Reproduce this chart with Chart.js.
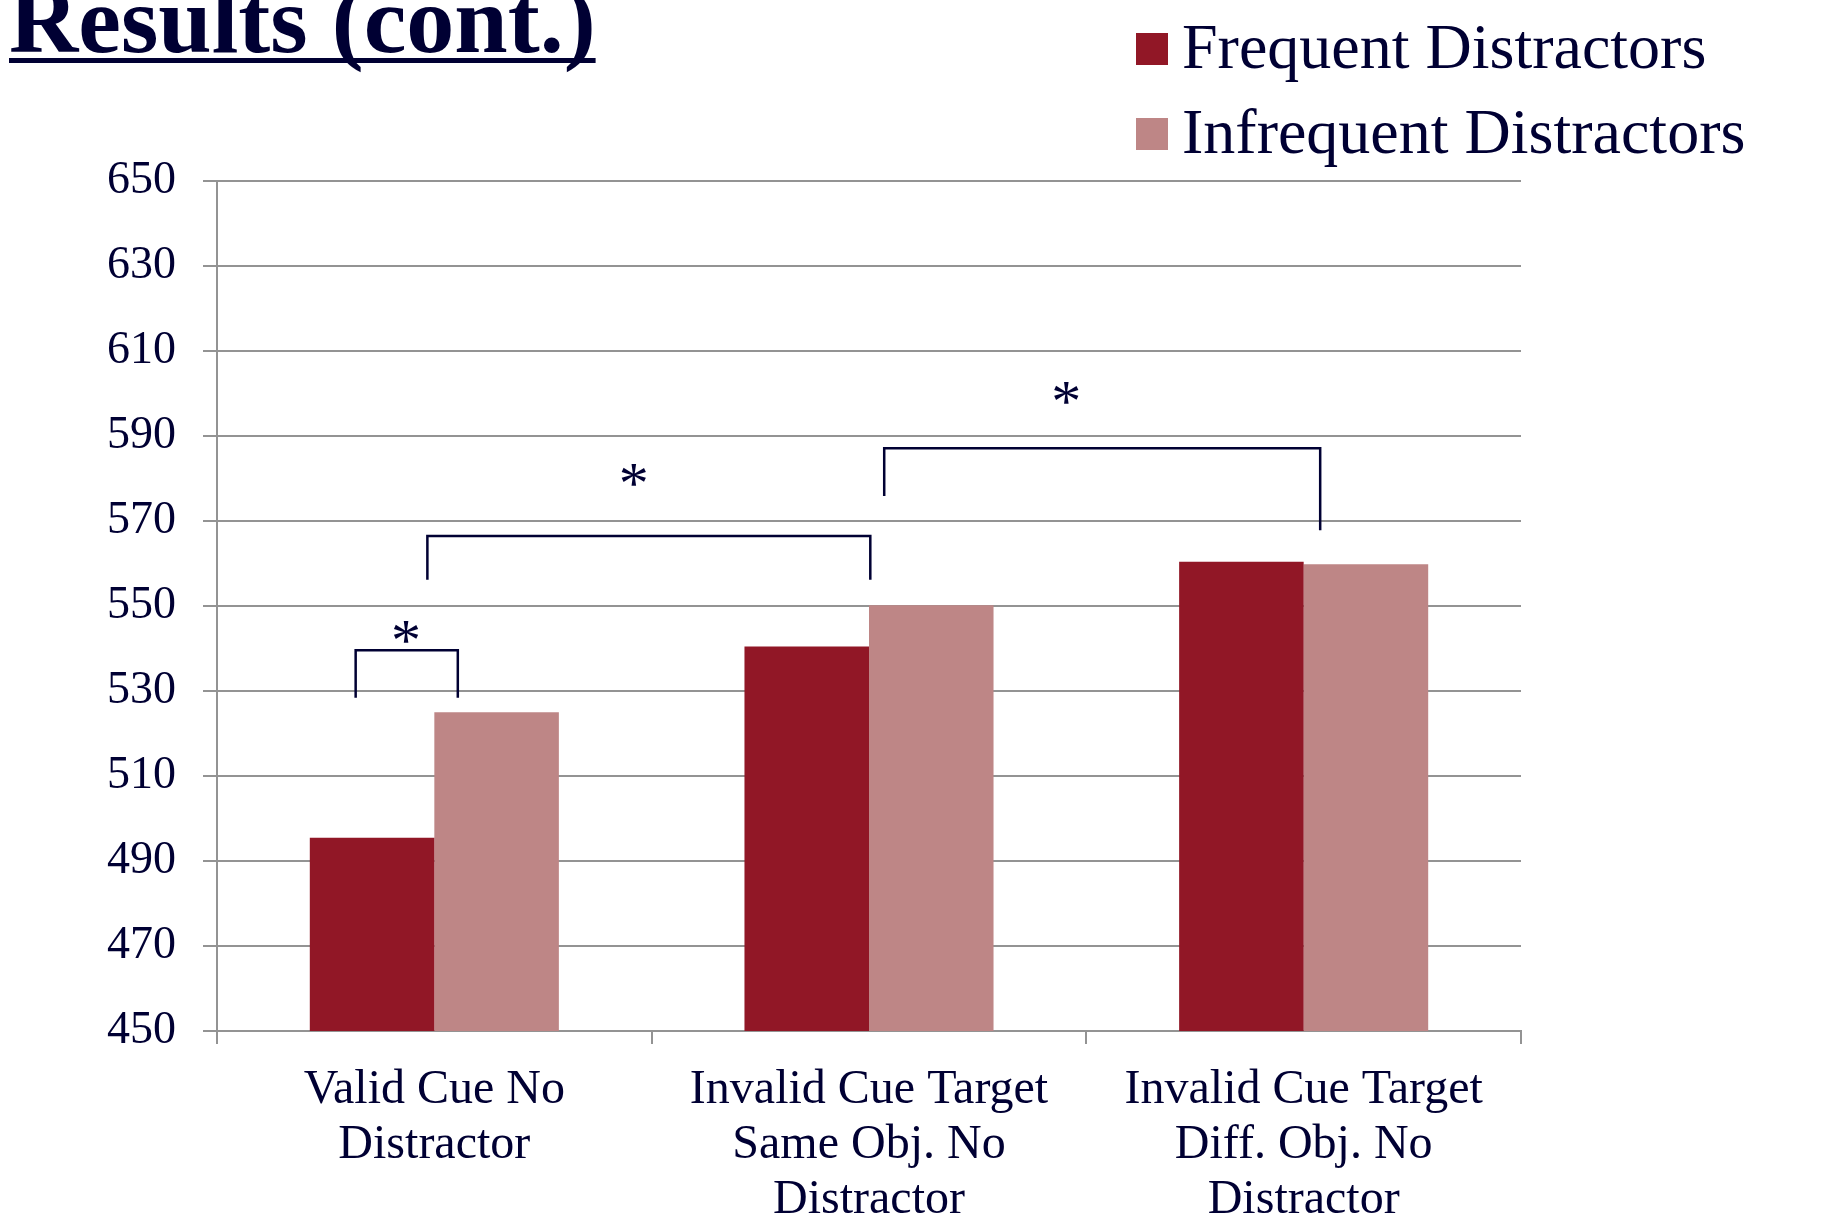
<!DOCTYPE html>
<html>
<head>
<meta charset="utf-8">
<script src="https://cdn.jsdelivr.net/npm/chart.js@4.4.1/dist/chart.umd.min.js"></script>
<style>
  html, body { margin: 0; padding: 0; background: #fff; overflow: hidden; }
  #wrap { position: relative; width: 1840px; height: 1223px; }
</style>
</head>
<body>
<div id="wrap"><canvas id="rtChart" width="1840" height="1223"></canvas></div>
<script>
//-------------------------- Data --------------------------//
const titleText = 'Results (cont.)';
const categories = [
  ['Valid Cue No', 'Distractor'],
  ['Invalid Cue Target', 'Same Obj. No', 'Distractor'],
  ['Invalid Cue Target', 'Diff. Obj. No', 'Distractor']
];
const seriesNames = ['Frequent Distractors', 'Infrequent Distractors'];
const frequentRT = [495.5, 540.5, 560.4];
const infrequentRT = [525.0, 550.2, 559.8];
const yMin = 450, yMax = 650, yStep = 20;

// significance brackets, in axis units (category index, ms)
const bracketFrom = [-0.181, -0.016, 1.035];
const bracketTo = [0.054, 1.003, 2.038];
const bracketTop = [539.6, 566.5, 587.1];
const bracketLeftEnd = [528.4, 556.2, 575.9];
const bracketRightEnd = [528.4, 556.2, 567.8];
const starX = [-0.065, 0.459, 1.454];
const starY = [544.0, 580.9, 600.1];
//----------------------------------------------------------//

const navy = '#000033';
const gridGray = '#939393';
const serif = '"Liberation Serif", "Times New Roman", serif';

// title, legend and significance marks
const extras = {
  id: 'extras',
  afterDatasetsDraw(chart) {
    const ctx = chart.ctx;
    const x = chart.scales.x, y = chart.scales.y;
    ctx.save();
    ctx.strokeStyle = navy;
    ctx.lineWidth = 2.5;
    ctx.fillStyle = navy;
    ctx.font = '60px ' + serif;
    ctx.textAlign = 'center';
    ctx.textBaseline = 'alphabetic';
    for (let i = 0; i < bracketFrom.length; i++) {
      const x1 = x.getPixelForValue(bracketFrom[i]);
      const x2 = x.getPixelForValue(bracketTo[i]);
      ctx.beginPath();
      ctx.moveTo(x1, y.getPixelForValue(bracketLeftEnd[i]));
      ctx.lineTo(x1, y.getPixelForValue(bracketTop[i]));
      ctx.lineTo(x2, y.getPixelForValue(bracketTop[i]));
      ctx.lineTo(x2, y.getPixelForValue(bracketRightEnd[i]));
      ctx.stroke();
      ctx.fillText('*', x.getPixelForValue(starX[i]), y.getPixelForValue(starY[i]) + 28);
    }
    ctx.restore();
  },
  afterDraw(chart) {
    const ctx = chart.ctx;
    ctx.save();
    // title
    ctx.fillStyle = navy;
    ctx.font = 'bold 96px ' + serif;
    ctx.textAlign = 'left';
    ctx.textBaseline = 'alphabetic';
    ctx.fillText(titleText, 9, 52);
    const w = ctx.measureText(titleText).width;
    ctx.fillRect(9, 58, w, 5);
    // legend
    ctx.font = '64px ' + serif;
    chart.data.datasets.forEach((ds, i) => {
      ctx.fillStyle = ds.backgroundColor;
      ctx.fillRect(1136, 33 + i * 85, 32, 32);
      ctx.fillStyle = navy;
      ctx.fillText(ds.label, 1182, 68 + i * 85);
    });
    ctx.restore();
  }
};

new Chart(document.getElementById('rtChart'), {
  type: 'bar',
  data: {
    labels: categories,
    datasets: [
      { label: seriesNames[0], data: frequentRT, backgroundColor: '#911726' },
      { label: seriesNames[1], data: infrequentRT, backgroundColor: '#BE8686' }
    ]
  },
  options: {
    responsive: false,
    animation: false,
    events: [],
    categoryPercentage: 0.573,
    barPercentage: 1.0,
    layout: { padding: { top: 181, right: 319, bottom: 0, left: 0 } },
    plugins: {
      legend: { display: false },
      title: { display: false },
      tooltip: { enabled: false }
    },
    scales: {
      x: {
        grid: { drawOnChartArea: false, drawTicks: true, tickLength: 13, color: gridGray, lineWidth: 2 },
        border: { color: gridGray, width: 2 },
        ticks: { color: navy, padding: 19, maxRotation: 0, autoSkip: false,
                 font: { family: serif, size: 48, lineHeight: 1.146 } },
        afterFit(scale) { scale.height = 192; }
      },
      y: {
        min: yMin,
        max: yMax,
        grid: { color: gridGray, lineWidth: 2, tickLength: 14 },
        border: { color: gridGray, width: 2 },
        ticks: { stepSize: yStep, color: navy, padding: 27,
                 font: { family: serif, size: 46 } },
        afterFit(scale) { scale.width = 217; }
      }
    }
  },
  plugins: [extras]
});
</script>
</body>
</html>
